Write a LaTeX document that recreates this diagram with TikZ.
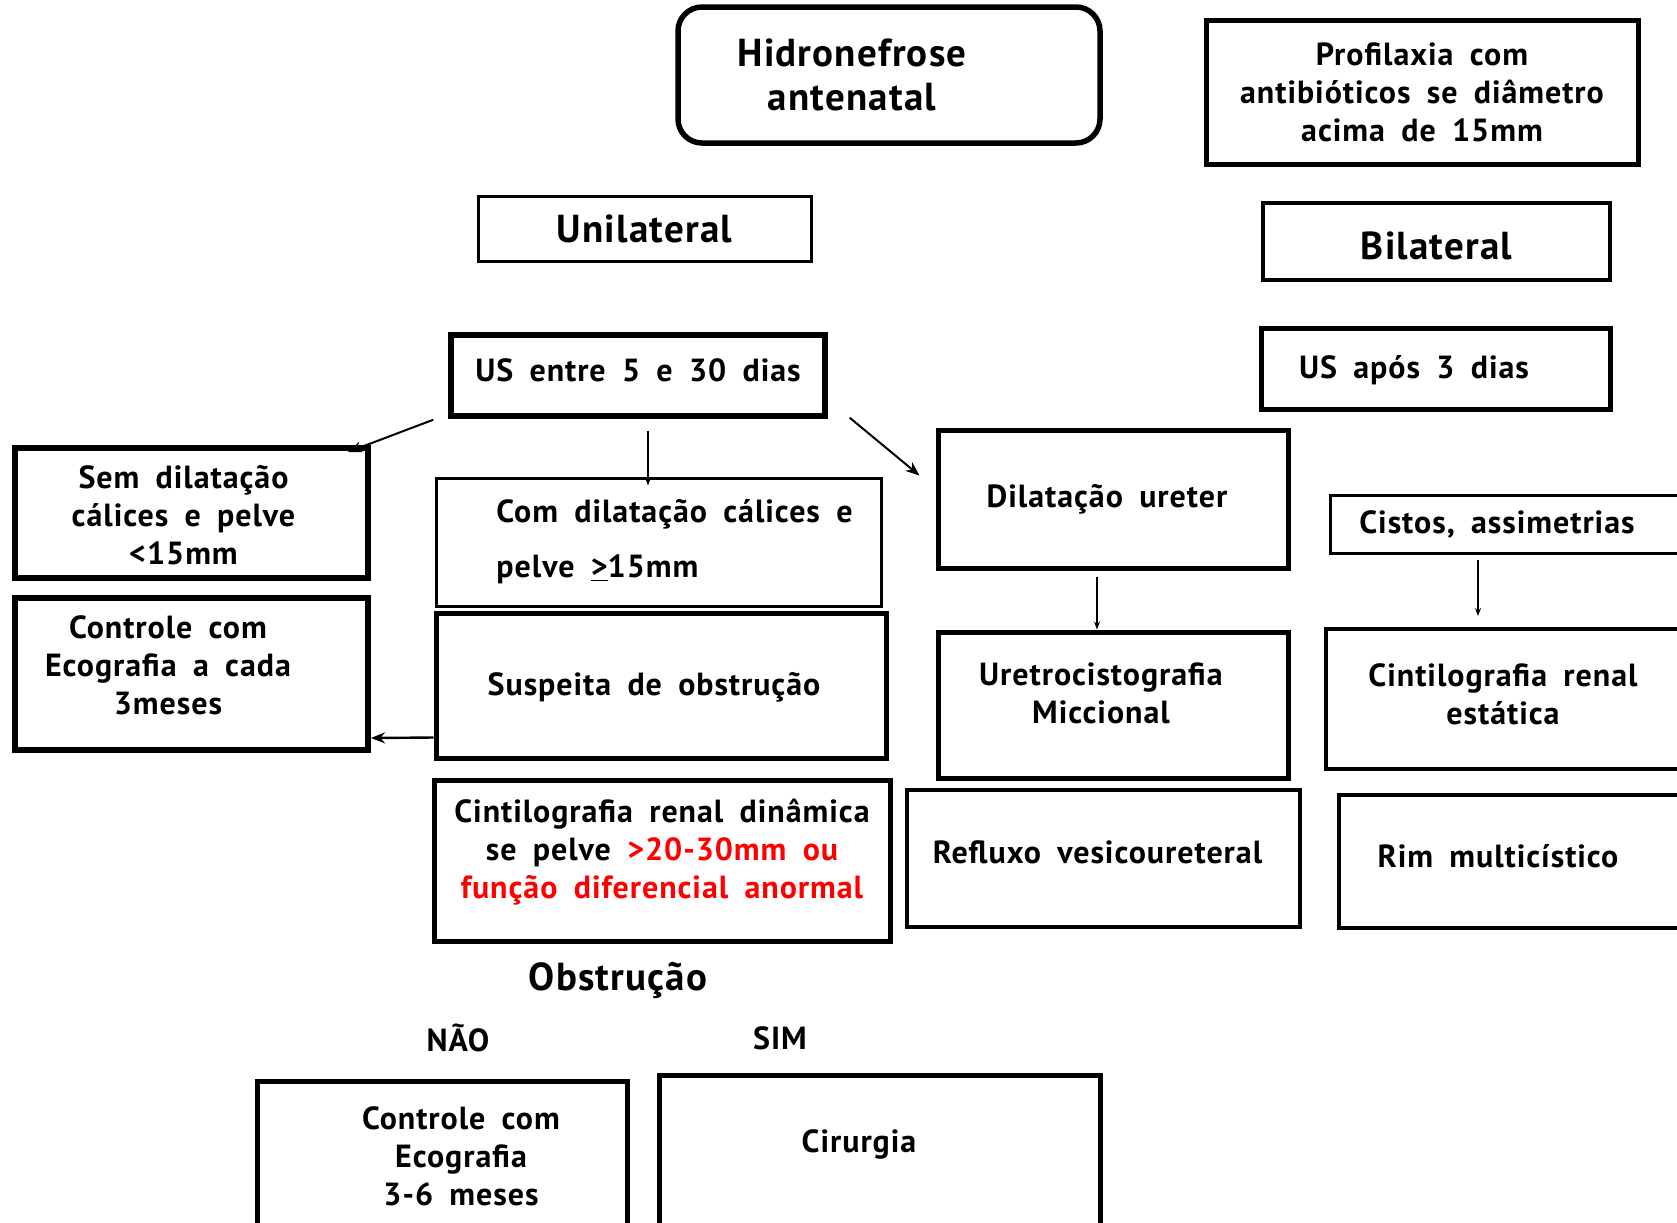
\documentclass[tikz,border=0pt]{standalone}
\usepackage{fontspec}
\setmainfont{PT Sans}[WordSpace=1.8, LetterSpace=3]
\usepackage{xcolor}
\usepackage{tikz}
\usetikzlibrary{shapes.geometric, arrows.meta, positioning, calc}

\newcommand{\bigtxt}{\bfseries\fontsize{19.5}{22}\selectfont}
\newcommand{\normtxt}{\bfseries\fontsize{16}{19}\selectfont}

\begin{document}
\begin{tikzpicture}[
    x=0.5pt, y=-0.5pt,
    box/.style={rectangle, draw, line width=2.5pt, inner sep=0pt, align=center, font=\normtxt},
    thinbox/.style={box, line width=1.5pt},
    txt/.style={align=center, font=\normtxt, inner sep=0pt},
    arrow/.style={-{Stealth[length=7pt, width=5.5pt]}, line width=1pt},
    thinarrow/.style={-{Stealth[length=4pt, width=3pt]}, line width=0.6pt}
]
\useasboundingbox (0,0) rectangle (1677,1222);

% top row
\node[box, rounded corners=12pt, line width=2.75pt, minimum width=211pt, minimum height=68pt,
      label={[txt, font=\bigtxt, xshift=-18.5pt]center:Hidronefrose\\antenatal}] (hidro) at (889,75) {};
\node[box, minimum width=216pt, minimum height=72pt] (profil) at (1422,92)
    {Profilaxia com\\antibióticos se diâmetro\\acima de 15mm};

\node[thinbox, font=\bigtxt, minimum width=166.5pt, minimum height=32.5pt] (unilat) at (644.5,228.5) {Unilateral};
\node[box, line width=1.75pt, minimum width=173.5pt, minimum height=38.5pt,
      label={[txt, font=\bigtxt, yshift=-2.25pt]center:Bilateral}] (bilat) at (1436.5,241.5) {};

\node[box, line width=2.75pt, minimum width=187pt, minimum height=40.5pt,
      label={[txt, yshift=2.5pt]center:US entre 5 e 30 dias}] (usentre) at (638,375.5) {};
\node[box, minimum width=174.5pt, minimum height=40.5pt,
      label={[txt, xshift=-10.75pt, yshift=-1pt]center:US após 3 dias}] (usapos) at (1435.5,368.5) {};

% unilateral branch
\node[box, line width=3pt, minimum width=176.5pt, minimum height=65pt,
      label={[txt, xshift=-4pt, yshift=-1pt]center:Sem dilatação\\cálices e pelve\\<15mm}] (semdil) at (191.5,513) {};
\node[thinbox, minimum width=222.5pt, minimum height=64pt,
      label={[txt, align=left, font=\normtxt\linespread{1.45}\selectfont, xshift=8pt]center:Com dilatação cálices e\\pelve \underline{>}15mm}] (comdil) at (658.5,542) {};
\node[box, minimum width=175pt, minimum height=69pt,
      label={[txt, xshift=-3pt]center:Dilatação ureter}] (dilur) at (1113,499) {};
\node[thinbox, minimum width=185pt, minimum height=29pt,
      label={[txt, xshift=-9pt]center:Cistos, assimetrias}] (cistos) at (1515,524) {};

\node[box, line width=3pt, minimum width=176.5pt, minimum height=76pt,
      label={[txt, xshift=-11.75pt, yshift=4.25pt]center:Controle com\\Ecografia a cada\\3meses}] (ctrl) at (191.5,674) {};
\node[box, minimum width=225pt, minimum height=72.5pt,
      label={[txt, xshift=-3.5pt, yshift=-1pt]center:Suspeita de obstrução}] (suspeita) at (661,685.5) {};
\node[box, minimum width=175pt, minimum height=73pt,
      label={[txt, xshift=-6pt, yshift=6pt]center:Uretrocistografia\\Miccional}] (uretro) at (1113,705) {};
\node[box, line width=2pt, minimum width=187pt, minimum height=70pt,
      label={[txt, xshift=-5pt, yshift=2.5pt]center:Cintilografia renal\\estática}] (estatica) at (1513,699) {};

\node[box, minimum width=228pt, minimum height=80.5pt,
      label={[txt, yshift=4pt]center:Cintilografia renal dinâmica\\se pelve \textcolor{red}{>20-30mm ou}\\\textcolor{red}{função diferencial anormal}}] (dinamica) at (662,860.5) {};
\node[box, line width=2pt, minimum width=196.5pt, minimum height=68.5pt,
      label={[txt, xshift=-3pt, yshift=3pt]center:Refluxo vesicoureteral}] (refluxo) at (1103.5,858.5) {};
\node[box, line width=2.25pt, minimum width=180.5pt, minimum height=66.5pt,
      label={[txt, xshift=-10.75pt, yshift=2.5pt]center:Rim multicístico}] (rim) at (1519.5,861.5) {};

% obstruction
\node[txt, font=\bigtxt] (obst) at (618,980) {Obstrução};
\node[txt] (nao) at (458,1038) {NÃO};
\node[txt] (sim) at (780,1038) {SIM};

\node[box, minimum width=185pt, minimum height=84.5pt,
      label={[txt, xshift=9.5pt, yshift=4.75pt]center:Controle com\\Ecografia\\3-6 meses}] (ctrlb) at (442,1165.5) {};
\node[box, minimum width=220.5pt, minimum height=87.5pt,
      label={[txt, xshift=-10.25pt, yshift=9.25pt]center:Cirurgia}] (cirurgia) at (879.5,1162.5) {};

% arrows
\draw[arrow] ([xshift=-7.5pt,yshift=-0.5pt]usentre.south west) -- ([xshift=-11.5pt,yshift=-3.5pt]semdil.north east);
\draw[thinarrow] ([xshift=5pt,yshift=-6pt]usentre.south) -- ([xshift=-5.25pt,yshift=-4.5pt]comdil.north);
\draw[arrow] ([xshift=11pt,yshift=0.5pt]usentre.south east) -- ([xshift=-8pt,yshift=-24pt]dilur.north west);
\draw[thinarrow] ([xshift=-8pt,yshift=-3pt]dilur.south) -- ([xshift=-8pt]uretro.north);
\draw[thinarrow] ([xshift=-18.5pt,yshift=-2.5pt]cistos.south) -- ([xshift=-17.5pt,yshift=5.5pt]estatica.north);
\draw[arrow, line width=1.2pt] ([yshift=-26pt]suspeita.west) -- ([yshift=-32pt]ctrl.east);

\end{tikzpicture}
\end{document}
